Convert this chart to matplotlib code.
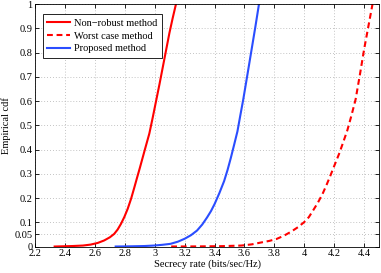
import matplotlib
matplotlib.use("Agg")
import matplotlib.pyplot as plt

# ---------------------------------------------------------------------------
# Data (secrecy rate vs empirical cdf)
# ---------------------------------------------------------------------------

nonrobust_x = [2.331, 2.45, 2.52, 2.572, 2.62, 2.662, 2.70, 2.729, 2.752, 2.774,
               2.797, 2.819, 2.842, 2.863, 2.882, 2.90, 2.932, 2.964, 2.987,
               3.009, 3.032, 3.054, 3.076, 3.098, 3.12, 3.142]
nonrobust_y = [0.0, 0.002, 0.004, 0.008, 0.015, 0.025, 0.038, 0.052, 0.07, 0.093,
               0.122, 0.155, 0.197, 0.242, 0.284, 0.323, 0.395, 0.466, 0.533,
               0.60, 0.67, 0.74, 0.81, 0.88, 0.942, 1.0]

worst_x = [3.11, 3.3, 3.45, 3.58, 3.65, 3.714, 3.765, 3.814, 3.865, 3.914, 3.958,
           4.0, 4.03, 4.056, 4.09, 4.122, 4.15, 4.178, 4.205, 4.233, 4.26, 4.288,
           4.315, 4.343, 4.372, 4.40, 4.428, 4.456]
worst_y = [0.0, 0.0005, 0.0015, 0.004, 0.009, 0.017, 0.023, 0.031, 0.045, 0.062, 0.08,
           0.101, 0.121, 0.146, 0.18, 0.217, 0.256, 0.298, 0.34, 0.383, 0.43, 0.48,
           0.54, 0.607, 0.71, 0.814, 0.907, 1.0]

proposed_x = [2.739, 2.85, 2.93, 2.995, 3.05, 3.105, 3.155, 3.2, 3.243, 3.283, 3.318,
              3.35, 3.376, 3.4, 3.432, 3.464, 3.487, 3.509, 3.531, 3.553, 3.572,
              3.592, 3.62, 3.648, 3.673, 3.697]
proposed_y = [0.0, 0.001, 0.002, 0.004, 0.007, 0.011, 0.02, 0.032, 0.047, 0.066, 0.091,
              0.12, 0.146, 0.175, 0.22, 0.27, 0.316, 0.366, 0.42, 0.475, 0.54,
              0.607, 0.71, 0.814, 0.907, 1.0]

x_ticks = [2.2, 2.4, 2.6, 2.8, 3.0, 3.2, 3.4, 3.6, 3.8, 4.0, 4.2, 4.4]
x_labels = ["2.2", "2.4", "2.6", "2.8", "3", "3.2", "3.4", "3.6", "3.8", "4", "4.2", "4.4"]
y_ticks = [0, 0.05, 0.1, 0.2, 0.3, 0.4, 0.5, 0.6, 0.7, 0.8, 0.9, 1.0]
y_labels = ["0", "0.05", "0.1", "0.2", "0.3", "0.4", "0.5", "0.6", "0.7", "0.8", "0.9", "1"]

# ---------------------------------------------------------------------------
# Plot
# ---------------------------------------------------------------------------

plt.rcParams["font.family"] = ["Liberation Serif", "DejaVu Serif"]
plt.rcParams["font.size"] = 7.5

fig = plt.figure(figsize=(3.81, 2.73), dpi=100)
ax = fig.add_axes([0.092, 0.097, 0.903, 0.888])

ax.plot(nonrobust_x, nonrobust_y, color="#ff0000", lw=1.5, label="Non\u2212robust method")
ax.plot(worst_x, worst_y, color="#ff0000", lw=1.5, ls=(0, (2.8, 1.8)), label="Worst case method")
ax.plot(proposed_x, proposed_y, color="#2a4dff", lw=1.5, label="Proposed method")

ax.set_xlim(2.2, 4.5)
ax.set_ylim(0, 1)
ax.set_xticks(x_ticks)
ax.set_xticklabels(x_labels)
ax.set_yticks(y_ticks)
ax.set_yticklabels(y_labels)
ax.tick_params(direction="in", length=3, width=0.6, top=True, right=True, pad=2)
ax.grid(True, color="#b0b0b0", ls=(0, (1, 2.5)), lw=0.6)
for s in ax.spines.values():
    s.set_linewidth(0.6)

ax.set_xlabel("Secrecy rate (bits/sec/Hz)", labelpad=1)
ax.set_ylabel("Empirical cdf", labelpad=2)

leg = ax.legend(loc="upper left", bbox_to_anchor=(0.008, 0.98), fancybox=False,
                framealpha=1, edgecolor="black", handlelength=2.2,
                borderpad=0.4, labelspacing=0.35, handletextpad=0.4)
leg.get_frame().set_linewidth(0.6)

fig.savefig("out.png", dpi=100)
